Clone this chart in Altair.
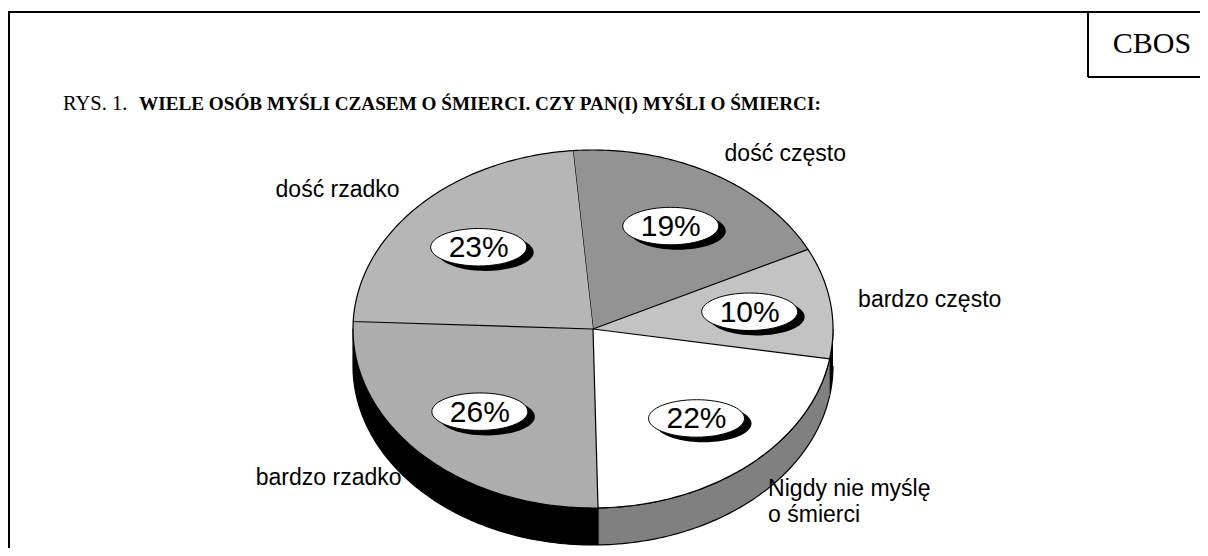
import altair as alt
import pandas as pd

# ---- data ----
categories = ["dość często", "bardzo często", "Nigdy nie myślę o śmierci", "bardzo rzadko", "dość rzadko"]
values = [19, 10, 22, 26, 23]
outer_labels = ["dość często", "bardzo często", "Nigdy nie myślę\no śmierci", "bardzo rzadko", "dość rzadko"]

# ---- styles ----
top_colors = ["#939393", "#c3c3c3", "#ffffff", "#adadad", "#b6b6b6"]
side_colors = ["#000000", "#000000", "#808080", "#000000", "#000000"]

df = pd.DataFrame({
    "idx": list(range(len(categories))),
    "cat": categories,
    "value": values,
    "lab": outer_labels,
})

# geometry of the tilted pie (page pixels)
CX, CY, RX, RY, DEPTH = 593, 329, 240, 179, 37
START = -0.0838  # radians, clockwise from 12 o'clock
N = 80
ELL = "M -1 0 A 1 0.39 0 1 1 1 0 A 1 0.39 0 1 1 -1 0 Z"

W, H = 1192, 540
xs = alt.Scale(domain=[8, 8 + W], nice=False, zero=False)
ys = alt.Scale(domain=[8, 8 + H], nice=False, zero=False, reverse=True)
X = alt.X("px:Q", scale=xs, axis=None)
Y = alt.Y("py:Q", scale=ys, axis=None)

base = alt.Chart(df).transform_joinaggregate(
    total="sum(value)"
).transform_window(
    cum="sum(value)", sort=[alt.SortField("idx")], frame=[None, 0]
).transform_calculate(
    a1=f"{START} + 2*PI*datum.cum/datum.total",
    a0=f"{START} + 2*PI*(datum.cum-datum.value)/datum.total",
)

# side walls (front half only)
side = base.transform_calculate(
    lo="max(datum.a0, PI/2)", hi="min(datum.a1, 3*PI/2)"
).transform_filter("datum.hi > datum.lo").transform_calculate(
    pts=f"sequence(0, {2*N+2})"
).transform_flatten(["pts"]).transform_calculate(
    t=f"datum.pts <= {N} ? datum.lo + (datum.hi-datum.lo)*datum.pts/{N} : datum.hi - (datum.hi-datum.lo)*(datum.pts-{N+1})/{N}"
).transform_calculate(
    px=f"{CX} + {RX}*sin(datum.t)",
    py=f"{CY} - {RY}*cos(datum.t) + (datum.pts > {N} ? {DEPTH} : 0)",
).mark_line(stroke="black", strokeWidth=1.2, strokeJoin="round").encode(
    x=X, y=Y, order=alt.Order("pts:Q"),
    fill=alt.Fill("cat:N", scale=alt.Scale(domain=categories, range=side_colors), legend=None),
    detail="cat:N",
)

# top faces
top = base.transform_calculate(
    pts=f"sequence(0, {N+2})"
).transform_flatten(["pts"]).transform_calculate(
    t=f"datum.a0 + (datum.a1-datum.a0)*(datum.pts-1)/{N}"
).transform_calculate(
    px=f"datum.pts == 0 ? {CX} : {CX} + {RX}*sin(datum.t)",
    py=f"datum.pts == 0 ? {CY} : {CY} - {RY}*cos(datum.t)",
).mark_line(stroke="black", strokeWidth=1.2, strokeJoin="round").encode(
    x=X, y=Y, order=alt.Order("pts:Q"),
    fill=alt.Fill("cat:N", scale=alt.Scale(domain=categories, range=top_colors), legend=None),
    detail="cat:N",
)

lab = base.transform_calculate(
    m="(datum.a0 + datum.a1)/2",
).transform_calculate(
    px=f"{CX} + {RX}*0.66*sin(datum.m)",
    py=f"{CY} - {RY}*0.66*cos(datum.m)",
    sx=f"{CX} + {RX}*0.66*sin(datum.m) + 7",
    sy=f"{CY} - {RY}*0.66*cos(datum.m) + 5",
    pct="format(datum.value/datum.total, '.0%')",
)

shadow = lab.mark_point(shape=ELL, size=9216, filled=True, color="black", opacity=1).encode(
    x=alt.X("sx:Q", scale=xs, axis=None), y=alt.Y("sy:Q", scale=ys, axis=None)
)
bubble = lab.mark_point(shape=ELL, size=9216, filled=True, fill="white", stroke="black",
                        strokeWidth=1, opacity=1).encode(x=X, y=Y)
pct = lab.mark_text(font="Liberation Sans", fontSize=30, color="black", baseline="middle",
                    align="center", dy=1).encode(x=X, y=Y, text="pct:N")

outer = base.transform_calculate(
    m="(datum.a0 + datum.a1)/2",
).transform_calculate(
    s="sin(datum.m)", c="cos(datum.m)",
).transform_calculate(
    px=f"{CX} + {RX+28}*datum.s",
    py=f"{CY} - {RY+22}*datum.c + (datum.c < 0 ? 8 : 0)",
)
outer_r = outer.transform_filter("datum.s > 0").mark_text(
    font="Liberation Sans", fontSize=23, align="left", baseline="middle", lineBreak="\n",
    lineHeight=26, color="black").encode(x=X, y=Y, text="lab:N")
outer_l = outer.transform_filter("datum.s <= 0").mark_text(
    font="Liberation Sans", fontSize=23, align="right", baseline="middle", lineBreak="\n",
    lineHeight=26, color="black").encode(x=X, y=Y, text="lab:N")

# title and frame
title_a = alt.Chart(pd.DataFrame({"t": ["RYS. 1."]})).mark_text(
    font="Liberation Serif", fontSize=20.5, align="left",
    baseline="alphabetic", color="black").encode(x=alt.value(55), y=alt.value(102), text="t:N")
title_b = alt.Chart(pd.DataFrame({"t": ["WIELE OSÓB MYŚLI CZASEM O ŚMIERCI. CZY PAN(I) MYŚLI O ŚMIERCI:"]})).mark_text(
    font="Liberation Serif", fontSize=19.2, fontWeight="bold", align="left",
    baseline="alphabetic", color="black").encode(x=alt.value(131), y=alt.value(102), text="t:N")
cbos = alt.Chart(pd.DataFrame({"t": ["CBOS"]})).mark_text(
    font="Liberation Serif", fontSize=30, align="center", baseline="middle", color="black").encode(
    x=alt.value(1144), y=alt.value(36), text="t:N")

fr = alt.Chart(pd.DataFrame({"k": [0]}))
top_line = fr.mark_rule(strokeWidth=2, color="black").encode(x=alt.value(0), x2=alt.value(W), y=alt.value(4))
left_line = fr.mark_rule(strokeWidth=2, color="black").encode(x=alt.value(1), y=alt.value(4), y2=alt.value(H))
box_v = fr.mark_rule(strokeWidth=2, color="black").encode(x=alt.value(1080), y=alt.value(4), y2=alt.value(69))
box_h = fr.mark_rule(strokeWidth=2, color="black").encode(x=alt.value(1080), x2=alt.value(W), y=alt.value(69))

chart = alt.layer(
    side, top, shadow, bubble, pct, outer_r, outer_l,
    title_a, title_b, cbos, top_line, left_line, box_v, box_h,
).resolve_scale(fill="independent").properties(
    width=W, height=H, padding=0, autosize=alt.AutoSizeParams(type="none"),
    background="white",
).configure_view(stroke=None)

chart.save("out.html", embed_options={"renderer": "svg", "actions": False})
